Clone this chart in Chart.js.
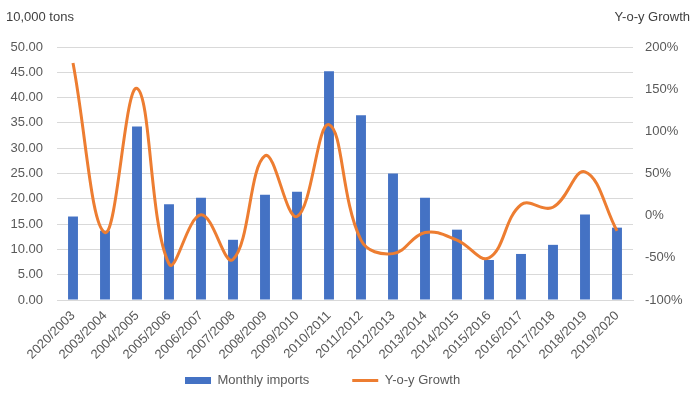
<!DOCTYPE html>
<html>
<head>
<meta charset="utf-8">
<script src="https://cdn.jsdelivr.net/npm/chart.js@4/dist/chart.umd.min.js"></script>
<style>
  html, body { margin: 0; padding: 0; background: #fff; }
  #box { width: 694px; height: 397px; }
</style>
</head>
<body>
<div id="box"><canvas id="imports"></canvas></div>
<script>
const seasons = ['2020/2003', '2003/2004', '2004/2005', '2005/2006', '2006/2007', '2007/2008',
  '2008/2009', '2009/2010', '2010/2011', '2011/2012', '2012/2013', '2013/2014',
  '2014/2015', '2015/2016', '2016/2017', '2017/2018', '2018/2019', '2019/2020'];
const monthlyImports = [16.5, 13.7, 34.3, 18.9, 20.2, 11.9, 20.8, 21.4, 45.2, 36.5,
  25.0, 20.2, 13.9, 7.9, 9.1, 10.9, 16.9, 14.3];
const yoyGrowth = [181, -20, 151, -57, 1, -52, 71, -1, 108, -29,
  -45, -20, -29, -50, 13, 10, 52, -18];

Chart.defaults.font.family = '"Liberation Sans", Arial, sans-serif';
Chart.defaults.font.size = 13;
Chart.defaults.color = '#595959';

// axis captions above each y axis
const captions = {
  id: 'captions',
  afterDraw(chart) {
    const ctx = chart.ctx;
    ctx.save();
    ctx.font = '13px "Liberation Sans", Arial, sans-serif';
    ctx.fillStyle = '#404040';
    ctx.textBaseline = 'middle';
    ctx.textAlign = 'left';
    ctx.fillText('10,000 tons', 6, 17);
    ctx.textAlign = 'right';
    ctx.fillText('Y-o-y Growth', 690, 17);
    ctx.restore();
  }
};

// legend: wider gap between items and start it where the original does
const legendTweak = {
  id: 'legendTweak',
  afterLayout(chart) {
    const lg = chart.legend;
    const extra = 43 - lg.options.labels.padding;
    lg.options.labels.padding = 43;
    lg.top -= extra;
    lg.left = 185 - 43;
  }
};

new Chart(document.getElementById('imports'), {
  data: {
    labels: seasons,
    datasets: [
      {
        type: 'bar',
        label: 'Monthly imports',
        data: monthlyImports,
        backgroundColor: '#4472C4',
        borderWidth: 0,
        barPercentage: 0.31,
        categoryPercentage: 1,
        pointStyle: 'rect',
        yAxisID: 'y',
        order: 1
      },
      {
        type: 'line',
        label: 'Y-o-y Growth',
        data: yoyGrowth,
        borderColor: '#ED7D31',
        backgroundColor: '#ED7D31',
        borderWidth: 3,
        pointRadius: 0,
        pointStyle: 'line',
        tension: 0.4,
        yAxisID: 'y1',
        order: 0
      }
    ]
  },
  options: {
    maintainAspectRatio: false,
    animation: false,
    layout: { padding: { top: 47, bottom: 0, left: 0, right: 0 } },
    plugins: {
      legend: {
        position: 'bottom',
        align: 'start',
        labels: {
          usePointStyle: true,
          pointStyleWidth: 26,
          boxHeight: 7,
          padding: 10,
          sort: (a, b) => a.datasetIndex - b.datasetIndex
        }
      },
      tooltip: { enabled: false }
    },
    scales: {
      x: {
        grid: { display: false },
        border: { color: '#d9d9d9' },
        ticks: { minRotation: 45, maxRotation: 45, padding: 0 },
        afterFit(scale) { scale.height = 64; }
      },
      y: {
        position: 'left',
        min: 0,
        max: 50,
        ticks: { stepSize: 5, padding: 14, callback: v => v.toFixed(2) },
        grid: { color: '#d9d9d9', drawTicks: false },
        border: { display: false },
        afterFit(scale) { scale.width = 57; }
      },
      y1: {
        position: 'right',
        min: -100,
        max: 200,
        ticks: { stepSize: 50, padding: 12, callback: v => v + '%' },
        grid: { drawOnChartArea: false, drawTicks: false },
        border: { display: false },
        afterFit(scale) { scale.width = 61; }
      }
    }
  },
  plugins: [captions, legendTweak]
});
</script>
</body>
</html>
